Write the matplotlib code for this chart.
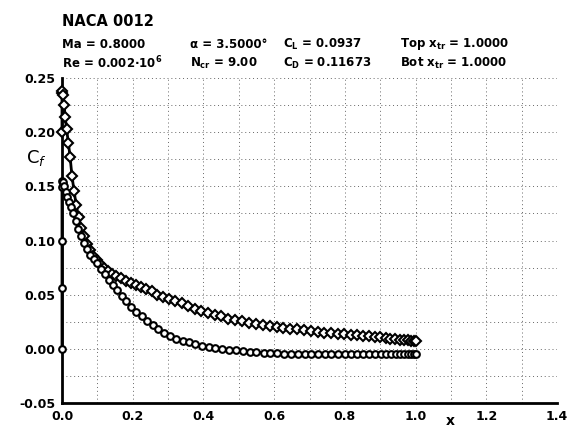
import numpy as np
import matplotlib
matplotlib.use("Agg")
import matplotlib.pyplot as plt

plt.rcParams['font.family'] = 'DejaVu Sans'
plt.rcParams['mathtext.default'] = 'bf'

# upper surface (diamonds)
x_top = [0.000, 0.000, 0.001, 0.003, 0.006, 0.009, 0.013, 0.018, 0.023, 0.028,
         0.034, 0.040, 0.047, 0.054, 0.062, 0.070, 0.079, 0.088, 0.098, 0.108,
         0.119, 0.130, 0.142, 0.154, 0.167, 0.180, 0.194, 0.208, 0.223, 0.238,
         0.254, 0.270, 0.287, 0.304, 0.321, 0.339, 0.357, 0.375, 0.394, 0.413,
         0.432, 0.451, 0.470, 0.490, 0.509, 0.529, 0.548, 0.568, 0.587, 0.607,
         0.626, 0.646, 0.665, 0.685, 0.704, 0.723, 0.742, 0.761, 0.780, 0.798,
         0.816, 0.834, 0.851, 0.868, 0.884, 0.900, 0.915, 0.929, 0.943, 0.955,
         0.967, 0.978, 0.988, 0.996, 1.000]
cf_top = [0.200, 0.236, 0.238, 0.234, 0.225, 0.214, 0.203, 0.190, 0.177, 0.160,
          0.146, 0.133, 0.122, 0.112, 0.104, 0.097, 0.091, 0.086, 0.082, 0.078,
          0.075, 0.072, 0.069, 0.067, 0.065, 0.063, 0.061, 0.059, 0.057, 0.055,
          0.053, 0.050, 0.048, 0.046, 0.044, 0.042, 0.040, 0.037, 0.035, 0.033,
          0.031, 0.030, 0.028, 0.027, 0.026, 0.024, 0.023, 0.022, 0.021, 0.020,
          0.019, 0.0185, 0.018, 0.017, 0.0165, 0.016, 0.015, 0.0145, 0.014, 0.0135,
          0.013, 0.0125, 0.012, 0.0115, 0.011, 0.0105, 0.010, 0.0095, 0.009, 0.0085,
          0.008, 0.0078, 0.0075, 0.0073, 0.0072]

# lower surface (circles)
x_bot = [0.000, 0.000, 0.000, 0.000, 0.001, 0.003, 0.006, 0.010, 0.015, 0.020,
         0.026, 0.032, 0.039, 0.046, 0.054, 0.062, 0.071, 0.080, 0.090, 0.100,
         0.110, 0.121, 0.132, 0.144, 0.156, 0.169, 0.182, 0.196, 0.210, 0.225,
         0.240, 0.256, 0.272, 0.289, 0.306, 0.323, 0.341, 0.359, 0.377, 0.396,
         0.415, 0.434, 0.453, 0.472, 0.492, 0.511, 0.531, 0.550, 0.570, 0.589,
         0.609, 0.628, 0.648, 0.667, 0.686, 0.705, 0.724, 0.743, 0.762, 0.781,
         0.799, 0.817, 0.835, 0.852, 0.869, 0.885, 0.901, 0.916, 0.930, 0.944,
         0.956, 0.968, 0.979, 0.988, 0.996, 1.000]
cf_bot = [0.000, 0.056, 0.100, 0.149, 0.155, 0.154, 0.150, 0.145, 0.140, 0.136,
          0.131, 0.125, 0.118, 0.111, 0.104, 0.098, 0.092, 0.087, 0.083, 0.079,
          0.074, 0.069, 0.064, 0.059, 0.054, 0.049, 0.044, 0.039, 0.034, 0.030,
          0.026, 0.022, 0.018, 0.015, 0.012, 0.0095, 0.0075, 0.006, 0.0045, 0.003,
          0.002, 0.001, 0.000, -0.001, -0.0015, -0.002, -0.0025, -0.003, -0.0035, -0.004,
          -0.004, -0.0045, -0.0045, -0.005, -0.005, -0.005, -0.005, -0.005, -0.005, -0.005,
          -0.005, -0.005, -0.005, -0.005, -0.005, -0.005, -0.0048, -0.0048, -0.0047, -0.0047,
          -0.0046, -0.0046, -0.0045, -0.0045, -0.0045, -0.0045]

x_ticks = [0.0, 0.2, 0.4, 0.6, 0.8, 1.0, 1.2, 1.4]
y_ticks = [-0.05, 0.00, 0.05, 0.10, 0.15, 0.20, 0.25]

W, H = 578, 430
fig = plt.figure(figsize=(W / 100, H / 100), dpi=100)
ax = fig.add_axes([62 / W, 1 - 403 / H, 495 / W, 325 / H])

# dotted grid
for gx in np.arange(0.1, 1.41, 0.1):
    ax.axvline(gx, color='black', lw=0.7, ls=(0, (1, 3)), alpha=0.6, zorder=1)
for gy in np.arange(-0.025, 0.251, 0.025):
    ax.axhline(gy, color='black', lw=0.7, ls=(0, (1, 3)), alpha=0.6, zorder=1)

ax.plot(x_top, cf_top, '-D', color='black', lw=2.0, ms=4.8, mfc='white',
        mec='black', mew=1.5, zorder=3, clip_on=False)
ax.plot(x_bot, cf_bot, '-o', color='black', lw=2.0, ms=4.8, mfc='white',
        mec='black', mew=1.5, zorder=3, clip_on=False)

ax.set_xlim(0, 1.4)
ax.set_ylim(-0.05, 0.25)
ax.set_xticks(x_ticks)
ax.set_xticklabels(['%.1f' % v for v in x_ticks], fontweight='bold', fontsize=9)
ax.set_yticks(y_ticks)
ax.set_yticklabels(['%.2f' % v for v in y_ticks], fontweight='bold', fontsize=9)
ax.tick_params(length=0, pad=5)
for s in ['top', 'right']:
    ax.spines[s].set_visible(False)
for s in ['left', 'bottom']:
    ax.spines[s].set_linewidth(2)

def px(x, y):
    return x / W, 1 - y / H

fig.text(*px(36, 158), 'C$_\\mathit{f}$', fontsize=13, ha='center', va='center')
fig.text(*px(450, 421), 'x', fontsize=10, fontweight='bold',
         ha='center', va='center')

fig.text(*px(62, 22), 'NACA 0012', fontsize=10.5, fontweight='bold', va='center')
row2 = [(62, 'Ma = 0.8000'), (190, '\u03b1 = 3.5000\u00b0'),
        (283, 'C$_L$ = 0.0937'), (400, 'Top x$_{tr}$ = 1.0000')]
row3 = [(62, 'Re = 0.002\u00b710$^6$'), (190, 'N$_{cr}$ = 9.00'),
        (283, 'C$_D$ = 0.11673'), (400, 'Bot x$_{tr}$ = 1.0000')]
for xp, t in row2:
    fig.text(*px(xp, 44), t, fontsize=8.5, fontweight='bold', va='center')
for xp, t in row3:
    fig.text(*px(xp, 63), t, fontsize=8.5, fontweight='bold', va='center')

fig.savefig('out.png', dpi=100)
